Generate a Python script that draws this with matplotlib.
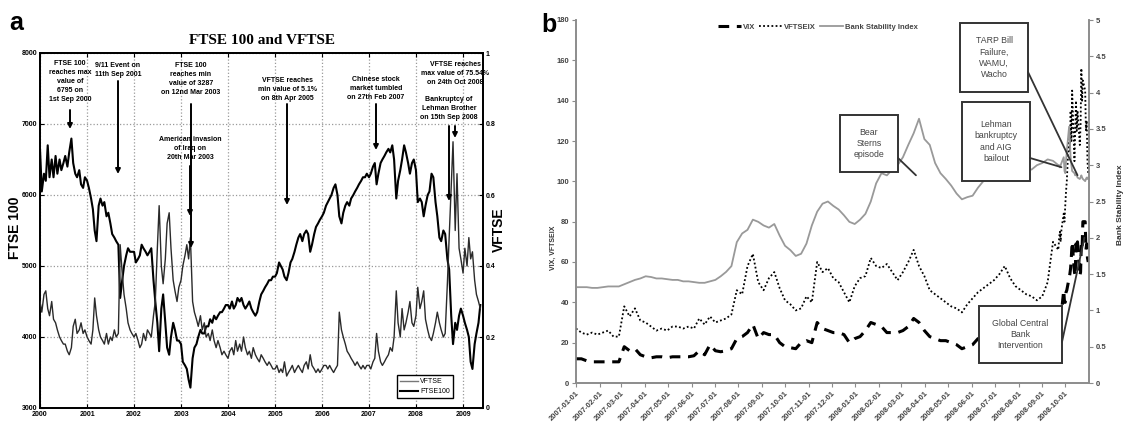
import matplotlib
matplotlib.use("Agg")
import matplotlib.pyplot as plt
import matplotlib.dates as mdates
from matplotlib.patches import Rectangle
import numpy as np
import pandas as pd

# ---------------- DATA : panel a (semi-monthly, from 2000-01-01) ----------------
ftse100 = [
    6650, 6050, 6300, 6200, 6700, 6250, 6500, 6250, 6550, 6300, 6500, 6350, 6450, 6550, 6400, 6600, 6795, 6450, 6300, 6250, 6350, 6150, 6100, 6250,  # 2000
    6200, 6100, 5950, 5800, 5500, 5350, 5850, 5950, 5850, 5900, 5700, 5750, 5600, 5450, 5400, 5350, 5300, 4550, 4800, 5000, 5150, 5250, 5200, 5200,  # 2001
    5200, 5050, 5100, 5150, 5300, 5250, 5200, 5150, 5200, 5250, 4800, 4500, 4200, 3800, 4400, 4600, 4200, 3850, 3750, 4000, 4200, 4100, 3950, 3950,  # 2002
    3900, 3650, 3600, 3550, 3400, 3287, 3700, 3850, 3900, 4000, 4100, 4050, 4050, 4150, 4150, 4250, 4200, 4300, 4250, 4300, 4350, 4350, 4400, 4450,  # 2003
    4450, 4400, 4500, 4400, 4450, 4550, 4500, 4550, 4450, 4400, 4450, 4500, 4400, 4350, 4300, 4350, 4500, 4600, 4650, 4700, 4750, 4800, 4800, 4850,  # 2004
    4850, 4900, 5050, 5000, 4950, 4850, 4800, 4900, 5050, 5100, 5200, 5300, 5400, 5450, 5350, 5450, 5500, 5450, 5200, 5300, 5450, 5550, 5600, 5650,  # 2005
    5700, 5750, 5850, 5900, 5950, 6000, 6100, 6150, 6000, 5700, 5600, 5750, 5850, 5900, 5850, 5950, 6000, 6050, 6100, 6150, 6200, 6250, 6250, 6300,  # 2006
    6250, 6300, 6400, 6450, 6150, 6300, 6450, 6500, 6550, 6600, 6650, 6600, 6700, 6500, 5950, 6200, 6350, 6500, 6700, 6600, 6450, 6300, 6450, 6500,  # 2007
    6350, 5900, 5950, 5900, 5700, 5850, 6000, 6050, 6300, 6250, 5900, 5700, 5400, 5350, 5500, 5450, 5100, 4950, 4300, 3900, 4200, 4100, 4300, 4400,  # 2008
    4300, 4200, 4100, 4000, 3650, 3550, 3900, 4050, 4200, 4450,                                                                                      # 2009
]
vftse = [
    0.30, 0.27, 0.32, 0.33, 0.28, 0.26, 0.30, 0.25, 0.24, 0.22, 0.20, 0.19, 0.18, 0.18, 0.16, 0.15, 0.17, 0.23, 0.25, 0.21, 0.22, 0.24, 0.21, 0.22,
    0.20, 0.19, 0.18, 0.22, 0.31, 0.26, 0.22, 0.20, 0.19, 0.18, 0.21, 0.18, 0.20, 0.19, 0.22, 0.20, 0.21, 0.46, 0.38, 0.32, 0.28, 0.24, 0.22, 0.21,
    0.20, 0.21, 0.19, 0.17, 0.18, 0.21, 0.19, 0.22, 0.21, 0.20, 0.26, 0.30, 0.45, 0.57, 0.40, 0.35, 0.42, 0.52, 0.55, 0.45, 0.36, 0.33, 0.30, 0.34,
    0.36, 0.40, 0.43, 0.46, 0.42, 0.48, 0.30, 0.27, 0.25, 0.23, 0.26, 0.22, 0.24, 0.20, 0.21, 0.19, 0.22, 0.19, 0.17, 0.19, 0.17, 0.15, 0.16, 0.15,
    0.14, 0.16, 0.17, 0.15, 0.19, 0.16, 0.18, 0.16, 0.20, 0.17, 0.15, 0.16, 0.14, 0.17, 0.15, 0.14, 0.13, 0.15, 0.14, 0.13, 0.12, 0.13, 0.12, 0.11,
    0.11, 0.12, 0.10, 0.11, 0.10, 0.13, 0.09, 0.10, 0.11, 0.12, 0.10, 0.11, 0.12, 0.11, 0.10, 0.12, 0.13, 0.11, 0.15, 0.12, 0.11, 0.10, 0.11, 0.10,
    0.11, 0.12, 0.12, 0.11, 0.12, 0.11, 0.10, 0.11, 0.12, 0.27, 0.22, 0.20, 0.18, 0.16, 0.15, 0.14, 0.13, 0.12, 0.13, 0.12, 0.11, 0.12, 0.11, 0.12,
    0.12, 0.11, 0.13, 0.14, 0.21, 0.16, 0.13, 0.12, 0.13, 0.14, 0.15, 0.17, 0.16, 0.20, 0.33, 0.24, 0.20, 0.28, 0.22, 0.24, 0.27, 0.30, 0.24, 0.23,
    0.26, 0.34, 0.28, 0.30, 0.33, 0.25, 0.22, 0.20, 0.19, 0.21, 0.24, 0.27, 0.24, 0.22, 0.20, 0.21, 0.35, 0.48, 0.62, 0.75, 0.50, 0.66, 0.45, 0.42,
    0.38, 0.45, 0.40, 0.48, 0.42, 0.44, 0.36, 0.32, 0.30, 0.28,
]
dates_a = pd.date_range("2000-01-01", periods=len(ftse100), freq="SMS")
year_labels_a = ["2000", "2001", "2002", "2003", "2004", "2005", "2006", "2007", "2008", "2009"]

# ---------------- DATA : panel b (weekly, then daily for the Oct-2008 turmoil) ----------------
vftseix_weekly = [27, 25, 24, 25, 24, 25, 26, 23, 23, 38,
                  33, 37, 31, 30, 28, 26, 27, 26, 28, 28,
                  27, 28, 27, 32, 29, 33, 30, 31, 32, 34,
                  46, 44, 58, 64, 50, 46, 52, 55, 47, 41,
                  39, 36, 37, 43, 40, 60, 55, 57, 52, 50,
                  45, 40, 48, 52, 53, 62, 58, 57, 59, 55,
                  51, 55, 60, 66, 58, 53, 46, 44, 42, 40,
                  38, 37, 35, 39, 42, 45, 47, 49, 51, 54,
                  58, 52, 48, 46, 44, 43, 41, 43, 50, 70,
                  66]
vix_weekly = [12, 12, 11, 10.5, 10.5, 10.5, 10.5, 10.5, 10.5, 18,
              16, 17, 14, 13, 12.5, 13, 13, 12.5, 13, 13,
              13, 13, 13.5, 16, 14, 19, 16, 15.5, 16, 17,
              22, 23, 25, 29, 22, 25, 24, 24, 20, 18,
              17.5, 17, 20, 21, 20, 30, 27, 26, 25, 25,
              24, 20, 22, 23, 26, 30, 29, 28, 25, 25,
              25, 26, 28, 32, 30, 26, 23, 22, 21, 21,
              20, 19, 17, 18, 19, 22, 21, 22, 23, 24,
              23, 22, 21, 21, 20, 20, 21, 22, 24, 31,
              35]
bsi_weekly = [1.32, 1.32, 1.32, 1.31, 1.31, 1.32, 1.33, 1.33, 1.33, 1.36,
              1.39, 1.42, 1.44, 1.47, 1.46, 1.44, 1.44, 1.43, 1.42, 1.42,
              1.40, 1.40, 1.39, 1.38, 1.38, 1.40, 1.42, 1.47, 1.53, 1.61,
              1.94, 2.06, 2.11, 2.25, 2.22, 2.17, 2.14, 2.19, 2.03, 1.89,
              1.83, 1.75, 1.78, 1.92, 2.17, 2.36, 2.47, 2.50, 2.44, 2.39,
              2.31, 2.22, 2.19, 2.25, 2.33, 2.50, 2.75, 2.89, 2.86, 2.94,
              3.00, 3.11, 3.28, 3.44, 3.64, 3.36, 3.28, 3.03, 2.89, 2.81,
              2.72, 2.61, 2.53, 2.56, 2.58, 2.69, 2.78, 2.89, 2.86, 2.89,
              2.92, 2.94, 2.94, 2.92, 2.94, 2.94, 3.00, 3.03, 3.08, 3.06,
              3.00]
vftseix_daily = [72, 75, 70, 76, 84, 80, 88, 95, 100, 125,
                 115, 135, 120, 145, 110, 125, 140, 125, 135, 118,
                 128, 156, 140, 150, 145, 125, 130, 110, 104]
vix_daily = [36, 35, 33, 35, 46, 40, 40, 45, 46, 52,
             54, 57, 63, 70, 55, 53, 69, 67, 70, 53,
             55, 69, 67, 80, 80, 66, 69, 62, 60]
bsi_daily = [3.00, 2.97, 3.00, 3.03, 3.11, 2.92, 2.89, 3.06, 3.19, 3.53,
             3.33, 3.11, 3.00, 2.92, 2.89, 2.86, 2.89, 2.86, 2.83, 2.81,
             2.83, 2.86, 2.83, 2.81, 2.78, 2.81, 2.83, 2.81, 2.83]
dates_weekly = pd.date_range("2007-01-01", periods=len(vix_weekly), freq="7D")
dates_daily = pd.bdate_range("2008-09-23", periods=len(vix_daily))
dates_b = dates_weekly.append(dates_daily)
vix = vix_weekly + vix_daily
vftseix = vftseix_weekly + vftseix_daily
bsi = bsi_weekly + bsi_daily

# ---------------- LAYOUT ----------------
W, H = 1124, 432
SANS = ["Liberation Sans", "DejaVu Sans"]
fig = plt.figure(figsize=(W / 100, H / 100), dpi=100)


def fx(px):
    return px / W


def fy(py):
    return 1 - py / H


# ================= PANEL a =================
axA = fig.add_axes([fx(40), fy(408), fx(483) - fx(40), fy(53) - fy(408)])
axA2 = axA.twinx()
lf, = axA.plot(dates_a, ftse100, color="black", lw=1.5, zorder=3)
lv, = axA2.plot(dates_a, vftse, color="#2a2a2a", lw=1.0, zorder=3)
axA.set_ylim(3000, 8000)
axA2.set_ylim(0, 1)
axA.set_xlim(pd.Timestamp("2000-01-01"), pd.Timestamp("2009-06-05"))
axA.set_yticks([3000, 4000, 5000, 6000, 7000, 8000])
axA2.set_yticks([0, 0.2, 0.4, 0.6, 0.8, 1])
axA2.set_yticklabels(["0", "0.2", "0.4", "0.6", "0.8", "1"])
year_ticks = [pd.Timestamp(f"{y}-01-01") for y in year_labels_a]
axA.set_xticks(year_ticks)
axA.set_xticklabels(year_labels_a)
axA.grid(True, linestyle=":", color="#9a9a9a", lw=0.9)
axA.set_axisbelow(True)
for ax in (axA, axA2):
    ax.tick_params(direction="in", length=3, width=0.8, labelsize=5, pad=2)
    for lab in ax.get_xticklabels() + ax.get_yticklabels():
        lab.set_fontfamily(SANS)
        lab.set_fontweight("bold")
    for s in ax.spines.values():
        s.set_linewidth(1.3)
axA.tick_params(top=True)
fig.text(fx(15), fy(228), "FTSE 100", rotation=90, ha="center", va="center",
         fontsize=10, fontweight="bold", family=SANS)
fig.text(fx(499), fy(230), "VFTSE", rotation=90, ha="center", va="center",
         fontsize=10, fontweight="bold", family=SANS)

leg = axA2.legend([lv, lf], ["VFTSE", "FTSE100"], loc="lower right",
                  bbox_to_anchor=(0.941, 0.017), fontsize=5, handlelength=2.6,
                  handletextpad=0.3, borderpad=0.5, labelspacing=0.4,
                  fancybox=False, edgecolor="black", framealpha=1)
leg.get_frame().set_linewidth(1.0)
lv_leg, lf_leg = leg.get_lines()
lv_leg.set_color("#777777")
for t in leg.get_texts():
    t.set_fontfamily(SANS)

fig.text(fx(262), fy(40), "FTSE 100 and VFTSE", ha="center", va="center",
         fontsize=11, fontweight="bold", family=["Liberation Serif", "DejaVu Serif"])
fig.text(fx(9), fy(23), "a", ha="left", va="center", fontsize=18, fontweight="bold", family=SANS)


def afrac(px, py):
    return ((px - 40) / 443, (408 - py) / 355)


notes_a = [
    ("FTSE 100\nreaches max\nvalue of\n6795 on\n1st Sep 2000", 70, 60, 110, 129),
    ("9/11 Event on\n11th Sep 2001", 118, 62, 81, 174),
    ("FTSE 100\nreaches min\nvalue of 3287\non 12nd Mar 2003", 191, 62, 104, 248),
    ("American invasion\nof Iraq on\n20th Mar 2003", 190, 136, 166, 216),
    ("VFTSE reaches\nmin value of 5.1%\non 8th Apr 2005", 287, 77, 104, 205),
    ("Chinese stock\nmarket tumbled\non 27th Feb 2007", 376, 76, 104, 150),
    ("VFTSE reaches\nmax value of 75.54%\non 24th Oct 2008", 455, 61, None, None),
    ("Bankruptcy of\nLehman Brother\non 15th Sep 2008", 449, 96, 126, 201),
]
for txt, cx, ty, a0, a1 in notes_a:
    axA2.text(*afrac(cx, ty), txt, transform=axA2.transAxes, ha="center", va="top",
              fontsize=5.0, fontweight="bold", family=SANS, linespacing=1.4, zorder=6)
    if a0 is not None:
        axA2.annotate("", xy=afrac(cx, a1), xytext=afrac(cx, a0), xycoords="axes fraction",
                      arrowprops=dict(arrowstyle="-|>", color="black", lw=1.4,
                                      mutation_scale=7, shrinkA=0, shrinkB=0), zorder=6)
axA2.annotate("", xy=afrac(455, 138), xytext=afrac(455, 126), xycoords="axes fraction",
              arrowprops=dict(arrowstyle="-|>", color="black", lw=1.4,
                              mutation_scale=7, shrinkA=0, shrinkB=0), zorder=6)

# ================= PANEL b =================
axB = fig.add_axes([fx(576), fy(383), fx(1089) - fx(576), fy(20) - fy(383)])
axB2 = axB.twinx()
GREY = "#8c8c8c"
lvix, = axB.plot(dates_b, vix, color="black", lw=2.2, linestyle=(0, (3.5, 2.5)), zorder=3)
lvf, = axB.plot(dates_b, vftseix, color="black", lw=1.3, linestyle=(0, (1, 1.3)), zorder=3)
lbsi, = axB2.plot(dates_b, bsi, color="#999999", lw=1.3, zorder=2)
axB.set_ylim(0, 180)
axB2.set_ylim(0, 5)
axB.set_xlim(pd.Timestamp("2007-01-01"), pd.Timestamp("2008-11-01"))
axB.set_yticks(range(0, 181, 20))
axB2.set_yticks([0, 0.5, 1, 1.5, 2, 2.5, 3, 3.5, 4, 4.5, 5])
axB2.set_yticklabels(["0", "0.5", "1", "1.5", "2", "2.5", "3", "3.5", "4", "4.5", "5"])
month_ticks = pd.date_range("2007-01-01", "2008-10-01", freq="MS")
axB.set_xticks(month_ticks)
axB.set_xticklabels([d.strftime("%Y-%m-%d") for d in month_ticks])
for ax in (axB, axB2):
    ax.spines["top"].set_visible(False)
    for s in ("left", "right", "bottom"):
        ax.spines[s].set_color(GREY)
        ax.spines[s].set_linewidth(1.2)
    ax.tick_params(direction="out", length=3, width=0.8, color=GREY, labelsize=5.5,
                   labelcolor="#444444", pad=2)
    for lab in ax.get_xticklabels() + ax.get_yticklabels():
        lab.set_fontfamily(SANS)
        lab.set_fontweight("bold")
for lab in axB.get_xticklabels():
    lab.set_rotation(45)
    lab.set_ha("right")
    lab.set_rotation_mode("anchor")
    lab.set_fontsize(5.5)

fig.text(fx(553), fy(248), "VIX, VFTSEIX", rotation=90, ha="center", va="center",
         fontsize=5, fontweight="bold", color="#333333", family=SANS)
fig.text(fx(1121), fy(205), "Bank Stability Index", rotation=90, ha="center", va="center",
         fontsize=6, fontweight="bold", color="#333333", family=SANS)
fig.text(fx(541), fy(25), "b", ha="left", va="center", fontsize=18, fontweight="bold", family=SANS)

legB = fig.legend([lvix, lvf, lbsi], ["VIX", "VFTSEIX", "Bank Stability Index"],
                  loc="center", bbox_to_anchor=(fx(818), fy(27)), ncol=3, frameon=False,
                  fontsize=5.5, handlelength=3, columnspacing=0.5, handletextpad=0.3)
for t in legB.get_texts():
    t.set_color("#444444")
    t.set_fontfamily(SANS)
    t.set_fontweight("bold")

boxes_b = [
    ("Bear\nSterns\nepisode", (840, 115, 898, 172), (898, 158), ("2008-03-20", 103)),
    ("TARP Bill\nFailure,\nWAMU,\nWacho", (960, 23, 1028, 92), (1028, 72), ("2008-10-17", 103)),
    ("Lehman\nbankruptcy\nand AIG\nbailout", (962, 102, 1030, 181), (1030, 158), ("2008-09-26", 107)),
    ("Global Central\nBank\nIntervention", (979, 306, 1062, 363), (1062, 342), ("2008-10-26", 72)),
]
for txt, (x0, y0, x1, y1), (sx, sy), (dd, dv) in boxes_b:
    r = Rectangle((fx(x0), fy(y1)), fx(x1) - fx(x0), fy(y0) - fy(y1), transform=fig.transFigure,
                  facecolor="white", edgecolor="#333333", lw=1.4, zorder=5, clip_on=False)
    axB2.add_patch(r)
    fig.text(fx((x0 + x1) / 2), fy((y0 + y1) / 2), txt, ha="center", va="center", fontsize=6.3,
             color="#444444", family=SANS, linespacing=1.3, zorder=7)
    axB2.annotate("", xy=(mdates.date2num(pd.Timestamp(dd)), dv), xycoords=axB.transData,
                  xytext=(fx(sx), fy(sy)), textcoords="figure fraction",
                  arrowprops=dict(arrowstyle="-", color="#333333", lw=1.3, shrinkA=0, shrinkB=0),
                  zorder=6, annotation_clip=False)

fig.savefig("out.png", dpi=100)
